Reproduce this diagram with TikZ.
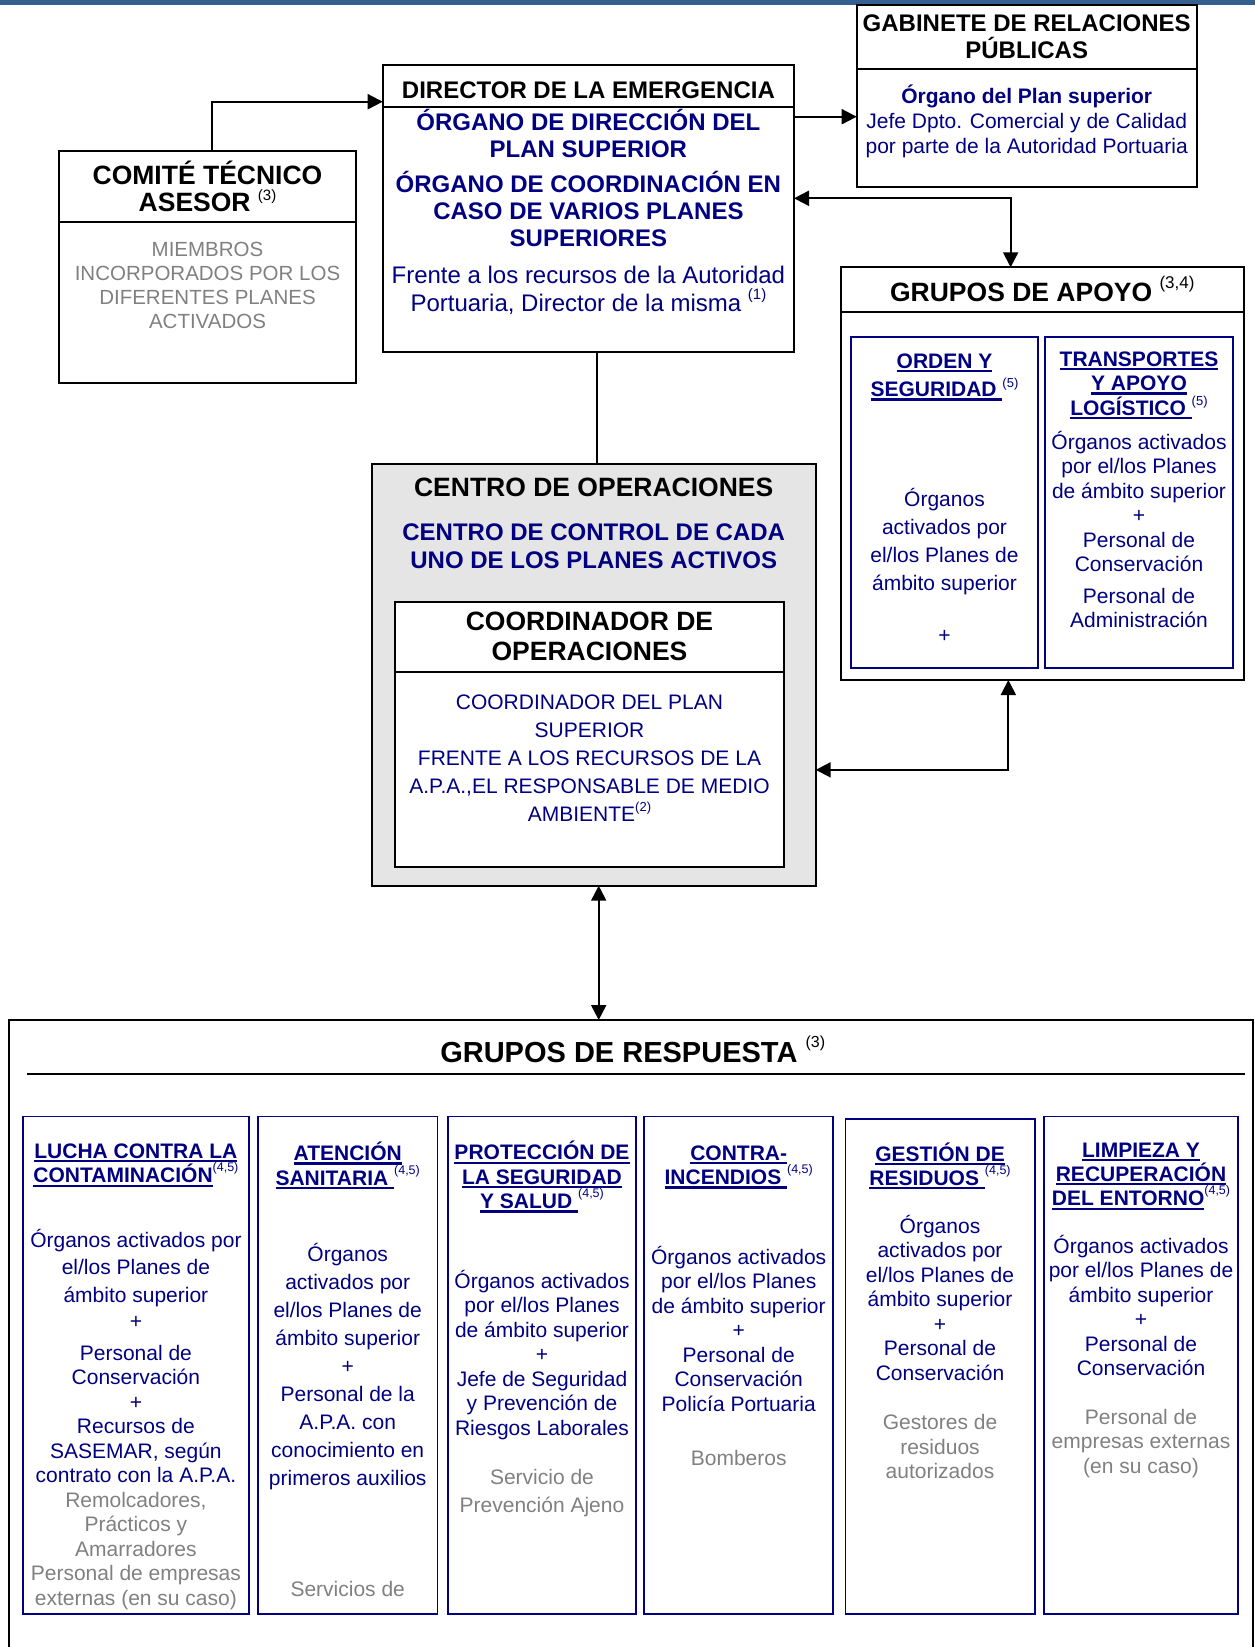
\documentclass[tikz,border=0pt]{standalone}
\usepackage{fontspec}
\setmainfont{Liberation Sans}
\usetikzlibrary{arrows.meta}
\definecolor{navy}{RGB}{0,0,128}
\definecolor{txtgray}{RGB}{128,128,128}
\definecolor{barblue}{RGB}{54,95,145}
\newcommand{\sups}[3]{\raisebox{#1pt}{\fontsize{#2}{#2}\selectfont\mdseries #3}}
\newcommand{\ulined}[1]{\setbox0=\hbox{#1}\rlap{\rule[-4pt]{\wd0}{2.2pt}}\box0}

\begin{document}
\begin{tikzpicture}[x = 1pt, y = -1pt,
    box/.style = {draw, line width = 2pt, inner sep = 0pt, outer sep = 0pt, anchor = north west},
    colbox/.style = {draw = navy, line width = 1.8pt, inner sep = 0pt, outer sep = 0pt, anchor = north west},
    arr/.style = {line width = 2pt, -{Triangle[length = 15pt, width = 15pt]}},
    dblarr/.style = {line width = 2pt, {Triangle[length = 15pt, width = 15pt]}-{Triangle[length = 15pt, width = 15pt]}},
    hd/.style n args = {2}{font = \fontsize{#1}{#2}\selectfont\bfseries, align = center, anchor = base, inner sep = 0pt},
    bluebf/.style n args = {2}{hd = {#1}{#2}, text = navy},
    txt/.style n args = {2}{font = \fontsize{#1}{#2}\selectfont, align = center, anchor = base, inner sep = 0pt, text = navy},
    greytxt/.style n args = {2}{txt = {#1}{#2}, text = txtgray}]
    \useasboundingbox (0,0) rectangle (1255,1647);
    \fill[barblue] (0,0) rectangle (1255,5);

    \node[box, minimum width = 340pt, minimum height = 181.7pt] (gab) at (856.7,5) {};
    \node[box, minimum width = 411.3pt, minimum height = 286.7pt] (dir) at (382.7,65) {};
    \node[box, minimum width = 297pt, minimum height = 232.3pt] (com) at (59,150.7) {};
    \node[box, minimum width = 403.3pt, minimum height = 412.7pt] (apo) at (840.7,267.3) {};
    \node[box, fill = black!10, minimum width = 444pt, minimum height = 421.7pt] (cen) at (371.7,464) {};
    \node[box, fill = white, minimum width = 389pt, minimum height = 265.6pt] (coo) at (395,601.7) {};
    \node[box, minimum width = 1244pt, minimum height = 700pt] (res) at (9,1020) {};

    \draw[line width = 2pt] ([yshift = -64pt]gab.north west) -- ([yshift = -64pt]gab.north east);
    \draw[line width = 2pt] ([yshift = -41.7pt]dir.north west) -- ([yshift = -41.7pt]dir.north east);
    \draw[line width = 2pt] ([yshift = -71pt]com.north west) -- ([yshift = -71pt]com.north east);
    \draw[line width = 2pt] ([yshift = -44.4pt]apo.north west) -- ([yshift = -44.4pt]apo.north east);
    \draw[line width = 2pt] ([yshift = -70pt]coo.north west) -- ([yshift = -70pt]coo.north east);
    \draw[line width = 2pt] ([xshift = 18pt, yshift = -54pt]res.north west) -- ([xshift = -8.5pt, yshift = -54pt]res.north east);

    \node[colbox, minimum width = 187.6pt, minimum height = 331pt] (ord) at (850.7,337.3) {};
    \node[colbox, minimum width = 188.3pt, minimum height = 331pt] (tra) at (1045,337.3) {};
    \node[colbox, minimum width = 225.4pt, minimum height = 497.5pt] (luc) at (23.2,1116.5) {};
    \node[colbox, minimum width = 179.5pt, minimum height = 497.5pt] (ate) at (258,1116.5) {};
    \node[colbox, minimum width = 188pt, minimum height = 497.5pt] (pro) at (448,1116.5) {};
    \node[colbox, minimum width = 189.3pt, minimum height = 497.5pt] (inc) at (644,1116.5) {};
    \node[colbox, minimum width = 189.5pt, minimum height = 495pt] (ges) at (845.5,1119) {};
    \node[colbox, minimum width = 194.6pt, minimum height = 497.5pt] (lim) at (1043.7,1116.5) {};

    \node[hd = {24}{26.6}] (gabt) at (1026.7,58.3) {GABINETE DE RELACIONES\\PÚBLICAS};
    \node[bluebf = {21}{25}] (gabo) at (1026.7,103.3) {Órgano del Plan superior};
    \node[txt = {21}{25}] (gabj) at (1026.7,153.3) {Jefe Dpto. Comercial y de Calidad\\por parte de la Autoridad Portuaria};

    \node[hd = {24}{26}] (dirt) at (588.4,98.3) {DIRECTOR DE LA EMERGENCIA};
    \node[bluebf = {24}{27}] (diro) at (588.4,246.5) {ÓRGANO DE DIRECCIÓN DEL\\PLAN SUPERIOR\\[8pt]ÓRGANO DE COORDINACIÓN EN\\CASO DE VARIOS PLANES\\SUPERIORES};
    \node[txt = {24}{28.4}] (dirf) at (588.4,311.7) {Frente a los recursos de la Autoridad\\Portuaria, Director de la misma \sups{12.5}{15}{(1)}};

    \node[hd = {26.5}{27.5}] (comt) at (207.5,211.5) {COMITÉ TÉCNICO\\ASESOR \sups{11.5}{15}{(3)}};
    \node[greytxt = {20.5}{24}] (comm) at (207.5,328) {MIEMBROS\\INCORPORADOS POR LOS\\DIFERENTES PLANES\\ACTIVADOS};

    \node[hd = {26.5}{28}] (apot) at (1042.3,301.7) {GRUPOS DE APOYO \sups{13}{17}{(3,4)}};
    \node[bluebf = {21}{28.3}] (ordt) at (944.5,396.6) {\ulined{ORDEN Y}\\\ulined{SEGURIDAD }\sups{9.5}{13}{(5)}};
    \node[txt = {21}{28}] (ordo) at (944.5,642.7) {Órganos\\activados por\\el/los Planes de\\ámbito superior\\[24pt]+};
    \node[bluebf = {21}{24.5}] (trat) at (1139,415) {\ulined{TRANSPORTES}\\\ulined{Y APOYO}\\\ulined{LOGÍSTICO }\sups{9.5}{13}{(5)}};
    \node[txt = {21}{24.5}] (trao) at (1139,627.8) {Órganos activados\\por el/los Planes\\de ámbito superior\\+\\Personal de\\Conservación\\[7pt]Personal de\\Administración};

    \node[hd = {26.5}{28}] (cent) at (593.7,496) {CENTRO DE OPERACIONES};
    \node[bluebf = {24}{27.6}] (ceno) at (593.7,568.3) {CENTRO DE CONTROL DE CADA\\UNO DE LOS PLANES ACTIVOS};
    \node[hd = {26.5}{30.7}] (coot) at (589.5,660.7) {COORDINADOR DE\\OPERACIONES};
    \node[txt = {21}{28.1}] (cooo) at (589.5,821.7) {COORDINADOR DEL PLAN\\SUPERIOR\\FRENTE A LOS RECURSOS DE LA\\A.P.A.,EL RESPONSABLE DE MEDIO\\AMBIENTE\sups{10}{13}{(2)}};

    \node[hd = {29}{30}] (rest) at (632.7,1062.8) {GRUPOS DE RESPUESTA \sups{15}{16}{(3)}};

    \node[bluebf = {21}{24.4}] (luct) at (135.9,1182.7) {\ulined{LUCHA CONTRA LA}\\\ulined{CONTAMINACIÓN}\sups{11}{12.5}{(4,5)}};
    \node[txt = {21}{24.5}] (luco) at (135.9,1482.5) {Órganos activados por\\[3pt]el/los Planes de\\[3pt]ámbito superior\\[1.5pt]+\\[7.5pt]Personal de\\Conservación\\+\\Recursos de\\SASEMAR, según\\contrato con la A.P.A.};
    \node[greytxt = {21}{24.5}] (lucg) at (135.9,1605) {Remolcadores,\\Prácticos y\\Amarradores\\Personal de empresas\\externas (en su caso)};

    \node[bluebf = {21}{24.4}] (atet) at (347.7,1185) {\ulined{ATENCIÓN}\\\ulined{SANITARIA }\sups{11}{12.5}{(4,5)}};
    \node[txt = {21}{28}] (ateo) at (347.7,1485) {Órganos\\activados por\\el/los Planes de\\ámbito superior\\+\\Personal de la\\A.P.A. con\\conocimiento en\\primeros auxilios};
    \node[greytxt = {21}{24.5}] (ateg) at (347.7,1596) {Servicios de};

    \node[bluebf = {21}{24.4}] (prot) at (542,1208.5) {\ulined{PROTECCIÓN DE}\\\ulined{LA SEGURIDAD}\\\ulined{Y SALUD }\sups{11}{12.5}{(4,5)}};
    \node[txt = {21}{24.5}] (proo) at (542,1435.3) {Órganos activados\\por el/los Planes\\de ámbito superior\\+\\Jefe de Seguridad\\y Prevención de\\Riesgos Laborales};
    \node[greytxt = {21}{28}] (prog) at (542,1512.5) {Servicio de\\Prevención Ajeno};

    \node[bluebf = {21}{24.4}] (inct) at (738.7,1184.5) {\ulined{CONTRA-}\\\ulined{INCENDIOS }\sups{11}{12.5}{(4,5)}};
    \node[txt = {21}{24.5}] (inco) at (738.7,1411) {Órganos activados\\por el/los Planes\\de ámbito superior\\+\\Personal de\\Conservación\\Policía Portuaria};
    \node[greytxt = {21}{24.5}] (incg) at (738.7,1465.8) {Bomberos};

    \node[bluebf = {21}{24.4}] (gest) at (940,1185.4) {\ulined{GESTIÓN DE}\\\ulined{RESIDUOS }\sups{11}{12.5}{(4,5)}};
    \node[txt = {21}{24.5}] (geso) at (940,1380.4) {Órganos\\activados por\\el/los Planes de\\ámbito superior\\+\\Personal de\\Conservación};
    \node[greytxt = {21}{24.4}] (gesg) at (940,1478.5) {Gestores de\\residuos\\autorizados};

    \node[bluebf = {21}{24.4}] (limt) at (1141,1205.8) {\ulined{LIMPIEZA Y}\\\ulined{RECUPERACIÓN}\\\ulined{DEL ENTORNO}\sups{11}{12.5}{(4,5)}};
    \node[txt = {21}{24.5}] (limo) at (1141,1375.5) {Órganos activados\\por el/los Planes de\\ámbito superior\\+\\Personal de\\Conservación};
    \node[greytxt = {21}{24.4}] (limg) at (1141,1473.2) {Personal de\\empresas externas\\(en su caso)};

    \draw[arr] ([xshift = 4.5pt]com.north) |- ([yshift = -36.7pt]dir.north west);
    \draw[arr] ([yshift = -51.7pt]dir.north east) -- ([yshift = -51.7pt]dir.north east -| gab.west);
    \draw[dblarr] ([yshift = -133.3pt]dir.north east) -| ([xshift = -31.7pt]apo.north);
    \draw[line width = 2pt] ([xshift = 8.3pt]dir.south) -- ([xshift = 8.3pt]dir.south |- cen.north);
    \draw[dblarr] ([xshift = -34pt]apo.south) |- ([yshift = -95pt]cen.east);
    \draw[dblarr] ([xshift = 5pt]cen.south) -- ([xshift = 5pt]cen.south |- res.north);
\end{tikzpicture}
\end{document}
